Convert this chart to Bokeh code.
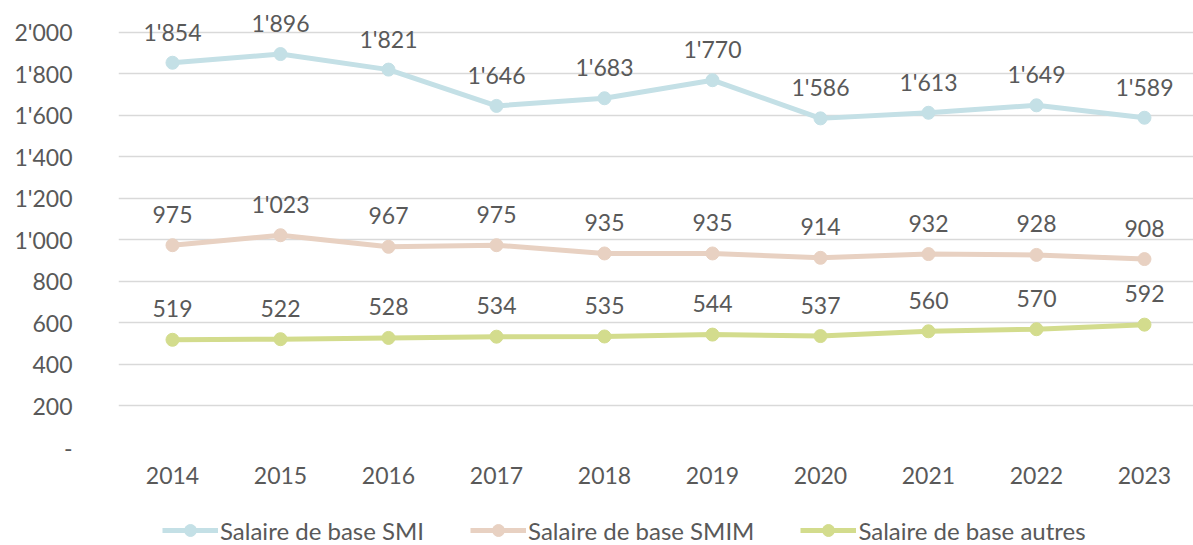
from bokeh.plotting import figure
from bokeh.layouts import column
from bokeh.models import Range1d, FixedTicker, Legend, LegendItem, ColumnDataSource
from bokeh.core.properties import value
from bokeh.embed import file_html
from bokeh.resources import INLINE

years = [2014, 2015, 2016, 2017, 2018, 2019, 2020, 2021, 2022, 2023]
smi = [1854, 1896, 1821, 1646, 1683, 1770, 1586, 1613, 1649, 1589]
smim = [975, 1023, 967, 975, 935, 935, 914, 932, 928, 908]
autres = [519, 522, 528, 534, 535, 544, 537, 560, 570, 592]
series_names = ["Salaire de base SMI", "Salaire de base SMIM", "Salaire de base autres"]
y_ticks = [0, 200, 400, 600, 800, 1000, 1200, 1400, 1600, 1800, 2000]

colors = ["#C4E0E6", "#E8D1C2", "#D3DC8D"]
FONT = "Lato"
TXT = "#595959"


def fmt(v):
    return "-" if v == 0 else f"{v:,}".replace(",", "'")


p = figure(width=1193, height=505, output_backend="svg", toolbar_location=None,
           x_range=Range1d(2013.5, 2023.454), y_range=Range1d(0, 2154),
           min_border_left=118, min_border_right=0, min_border_top=0, min_border_bottom=58)
p.outline_line_color = None
p.background_fill_color = "white"
p.border_fill_color = "white"

p.yaxis.ticker = FixedTicker(ticks=y_ticks)
p.yaxis.major_label_overrides = {t: fmt(t) for t in y_ticks}
p.xaxis.ticker = FixedTicker(ticks=years)
p.xaxis.major_label_overrides = {y: str(y) for y in years}
for ax in (p.xaxis[0], p.yaxis[0]):
    ax.axis_line_color = None
    ax.major_tick_line_color = None
    ax.minor_tick_line_color = None
    ax.major_tick_out = 0
    ax.major_tick_in = 0
    ax.major_label_text_font = FONT
    ax.major_label_text_font_size = "23px"
    ax.major_label_text_color = TXT
p.yaxis.major_label_standoff = 46
p.xaxis.major_label_standoff = 19
p.xgrid.grid_line_color = None
p.ygrid.grid_line_color = "#D9D9D9"
p.ygrid.grid_line_width = 1.5

# legend strip below the chart
p2 = figure(width=1193, height=40, output_backend="svg", toolbar_location=None,
            x_range=Range1d(0, 1), y_range=Range1d(-10000, -9000),
            x_axis_location=None, y_axis_location=None,
            min_border_left=0, min_border_right=0, min_border_top=0, min_border_bottom=0)
p2.outline_line_color = None
p2.xgrid.grid_line_color = None
p2.ygrid.grid_line_color = None

items = []
for name, vals, c in zip(series_names, [smi, smim, autres], colors):
    src = ColumnDataSource(dict(x=years, y=vals, lbl=[fmt(v) for v in vals]))
    p.line("x", "y", source=src, line_color=c, line_width=5)
    p.scatter("x", "y", source=src, size=13, fill_color=c, line_color=c)
    p.text("x", "y", text="lbl", source=src, text_align="center", text_baseline="middle",
           y_offset=-31, text_font=value(FONT), text_font_size="23px", text_color=TXT)
    l2 = p2.line("x", "y", source=src, line_color=c, line_width=5)
    s2 = p2.scatter("x", "y", source=src, size=13, fill_color=c, line_color=c)
    items.append(LegendItem(label=name, renderers=[l2, s2]))

legend = Legend(items=items, orientation="horizontal", label_text_font=FONT,
                label_text_font_size="24px", label_text_color=TXT,
                border_line_color=None, background_fill_alpha=0,
                glyph_width=56, glyph_height=30, label_standoff=2, spacing=46,
                margin=0, padding=0, location=(44, 0))
p2.add_layout(legend, "center")

layout = column(p, p2, spacing=0)
open("out.html", "w").write(file_html(layout, INLINE))
